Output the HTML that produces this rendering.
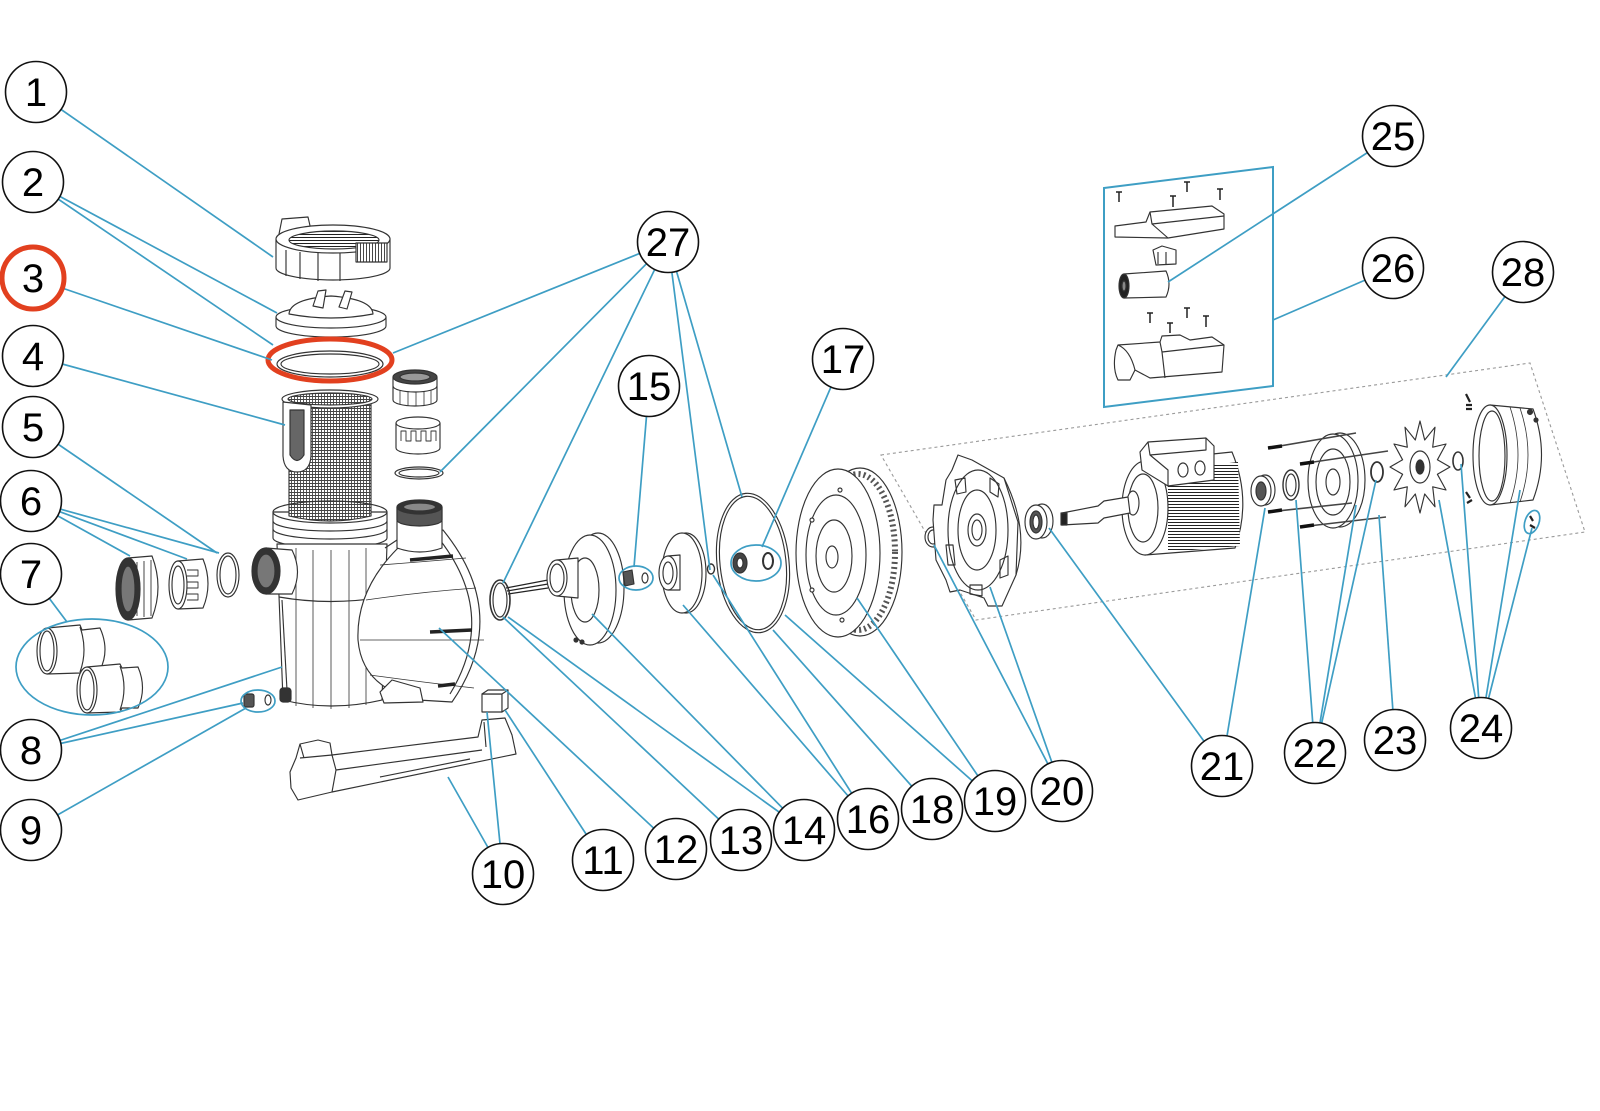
<!DOCTYPE html>
<html><head><meta charset="utf-8"><style>
html,body{margin:0;padding:0;background:#fff;}
svg{display:block;}
.lbl text{font-family:"Liberation Sans",Arial,sans-serif;font-size:40px;text-anchor:middle;fill:#000;}
</style></head><body>
<svg width="1600" height="1111" viewBox="0 0 1600 1111" xmlns="http://www.w3.org/2000/svg">
<defs>
<pattern id="mesh" width="3" height="3" patternUnits="userSpaceOnUse"><rect width="3" height="3" fill="#fff"/><path d="M0 0.5H3M0.5 0V3" stroke="#444" stroke-width="0.9"/></pattern>
<pattern id="hh" width="4" height="3" patternUnits="userSpaceOnUse"><rect width="4" height="3" fill="#fff"/><path d="M0 0.5H4" stroke="#222" stroke-width="1"/></pattern>
<pattern id="vv" width="3" height="4" patternUnits="userSpaceOnUse"><rect width="3" height="4" fill="#fff"/><path d="M0.5 0V4" stroke="#333" stroke-width="0.9"/></pattern>
</defs>
<rect width="1600" height="1111" fill="#fff"/>

<path d="M881 455 L1530 363 L1585 532 L976 620 Z" fill="none" stroke="#9a9a9a" stroke-width="1.1" stroke-dasharray="3 3"/>

<g fill="#fff" stroke="#333" stroke-width="1.15" stroke-linejoin="round">
<path d="M279 234 L282 219 L308 217 L311 230"/>
<path d="M276 239 V268 A57 12 0 0 0 390 268 V239 Z"/>
<ellipse cx="333" cy="239" rx="57" ry="14"/>
<ellipse cx="334" cy="240" rx="45" ry="9" fill="url(#hh)"/>
<path d="M286 250 V276 M300 252 V279 M318 253 V281 M340 253 V281" fill="none"/>
<rect x="356" y="243" width="31" height="19" fill="url(#vv)"/>
<path d="M276 317 V326 A55 11 0 0 0 386 326 V317 Z"/>
<ellipse cx="331" cy="317" rx="55" ry="11"/>
<path d="M289 314 Q290 299 331 296 Q372 299 373 314 Q331 322 289 314 Z"/>
<path d="M313 306 L318 291 L326 290 L323 308 Z M339 307 L345 291 L352 292 L347 309 Z"/>
<ellipse cx="330" cy="364" rx="53" ry="13" fill="none"/>
<ellipse cx="330" cy="364" rx="49" ry="10" fill="none"/>
<path d="M273 512 V538 A57 10 0 0 0 387 538 V512 Z"/>
<path d="M273 521 A57 10 0 0 0 387 521 M273 529 A57 10 0 0 0 387 529" fill="none"/>
<path d="M289 400 V516 Q330 526 371 516 V400 Z" fill="url(#mesh)"/>
<ellipse cx="330" cy="399" rx="48" ry="9"/>
<ellipse cx="330" cy="399" rx="42" ry="6" fill="url(#mesh)"/>
<path d="M283 402 V456 Q284 472 297 472 Q310 472 311 456 V405 Z"/>
<path d="M290 410 V455 Q297 466 304 455 V410 Z" fill="#666"/>
<path d="M273 512 A57 11 0 0 0 387 512" fill="none"/>
<path d="M273 512 A57 11 0 0 1 387 512" fill="none"/>
<path d="M277 544 L283 700 Q330 712 382 700 L387 544 Z"/>
<path d="M279 597 Q330 606 385 597" fill="none"/>
<path d="M296 548 V706 M313 550 V708 M331 550 V709 M349 550 V708 M366 548 V705" fill="none" stroke-width="0.8"/>
<path d="M266 548 L292 550 Q303 572 292 594 L266 594 Z"/>
<ellipse cx="266" cy="571" rx="14" ry="23" fill="#333"/>
<ellipse cx="266" cy="571" rx="9" ry="17" fill="#777"/>
<path d="M282 600 L287 690" fill="none"/>
<rect x="280" y="688" width="11" height="14" rx="3" fill="#333"/>
<path d="M398 548 Q356 590 358 640 Q362 688 418 700 L452 702 Q512 615 443 530 Z"/>
<path d="M385 548 L400 538 L412 548" fill="none"/>
<path d="M380 565 Q420 562 466 558 M366 600 Q420 592 476 588 M360 640 Q420 640 484 640 M370 675 Q420 682 474 688" fill="none" stroke-width="0.8"/>
<path d="M440 540 Q498 615 450 694" fill="none"/>
<path d="M410 560 L453 556 M430 632 L472 630 M438 686 L455 684" stroke="#222" stroke-width="3.5"/>
<path d="M380 692 L392 680 L420 688 L423 702 L384 703 Z"/>
<path d="M397 507 V548 Q420 556 442 548 V507 Z"/>
<path d="M397 507 V520 A22.5 6 0 0 0 442 520 V507 Z" fill="#555"/>
<ellipse cx="419.5" cy="507" rx="22.5" ry="7" fill="#333"/>
<ellipse cx="419.5" cy="507" rx="16" ry="4" fill="#888"/>
<path d="M393 377 V400 A22 6 0 0 0 437 400 V377 Z"/>
<path d="M393 386 A22 6 0 0 0 437 386" fill="none"/>
<path d="M400 390 V404 M408 391 V406 M416 392 V406 M424 391 V406 M431 390 V404" fill="none" stroke-width="0.8"/>
<ellipse cx="415" cy="377" rx="22" ry="7" fill="#444"/>
<ellipse cx="415" cy="377" rx="15" ry="4" fill="#999"/>
<path d="M396 423 V448 A22 6 0 0 0 440 448 V423 Z"/>
<ellipse cx="418" cy="423" rx="22" ry="6"/>
<path d="M401 441 V431 H406 V441 H411 V431 H416 V441 H421 V431 H426 V441 H431 V431 H436 V441" fill="none" stroke-width="0.9"/>
<ellipse cx="419" cy="473" rx="24" ry="6" fill="none"/>
<ellipse cx="419" cy="473" rx="20" ry="4" fill="none"/>
<path d="M128 558 L152 556 Q164 587 152 618 L128 620 Z"/>
<path d="M137 562 V616 M144 561 V617 M151 560 V616" fill="none" stroke-width="0.9"/>
<ellipse cx="128" cy="589" rx="12" ry="31" fill="#333"/>
<ellipse cx="128" cy="589" rx="7" ry="23" fill="#777"/>
<path d="M178 561 L203 559 Q213 584 203 608 L178 609 Z"/>
<path d="M187 570 H198 V576 H187 M187 582 H198 V588 H187 M187 594 H198 V600 H187" fill="none" stroke-width="0.9"/>
<ellipse cx="178" cy="585" rx="9" ry="24"/>
<ellipse cx="178" cy="585" rx="6" ry="19" fill="none"/>
<ellipse cx="228" cy="575" rx="11" ry="22" fill="none"/>
<ellipse cx="228" cy="575" rx="8" ry="19" fill="none"/>
<path d="M47 628 L80 625 L82 630 L100 628 Q110 650 100 670 L82 670 L80 673 L47 674 Z"/>
<path d="M80 627 Q88 650 80 672" fill="none"/>
<ellipse cx="47" cy="651" rx="10" ry="23"/>
<ellipse cx="47" cy="651" rx="7" ry="20" fill="none"/>
<path d="M87 667 L120 664 L122 668 L138 667 Q147 688 138 708 L122 708 L120 712 L87 713 Z"/>
<path d="M120 666 Q128 688 120 710" fill="none"/>
<ellipse cx="87" cy="690" rx="10" ry="23"/>
<ellipse cx="87" cy="690" rx="7" ry="20" fill="none"/>
<rect x="244" y="694" width="10" height="13" rx="2" fill="#555"/>
<ellipse cx="268" cy="700" rx="3" ry="5" fill="none"/>
<path d="M290 772 L296 758 L300 744 L318 740 L330 743 L332 755 L478 737 L482 720 L505 718 L512 735 L516 754 L332 792 L298 800 L291 788 Z"/>
<path d="M332 755 L336 770 L482 750 M300 758 L332 755 M300 744 L304 758 M484 722 L486 747 M332 792 L336 770 M380 777 L470 759" fill="none"/>
<rect x="482" y="694" width="20" height="18"/>
<path d="M482 694 L488 690 L508 690 L502 694 Z M502 694 L508 690 L508 708 L502 712 Z"/>
<path d="M506 588 L548 580 M508 594 L548 588 M507 591 L548 584" stroke="#222" stroke-width="1.2" fill="none"/>
<ellipse cx="500" cy="600" rx="10" ry="20" fill="none" stroke-width="1.6"/>
<ellipse cx="500" cy="600" rx="7" ry="17" fill="none"/>
<ellipse cx="598" cy="588" rx="26" ry="55"/>
<ellipse cx="590" cy="590" rx="26" ry="55"/>
<ellipse cx="585" cy="590" rx="14" ry="32" fill="none"/>
<path d="M557 560 L578 558 L578 598 L557 596 Z"/>
<ellipse cx="557" cy="578" rx="10" ry="18"/>
<ellipse cx="557" cy="578" rx="7" ry="14" fill="none"/>
<circle cx="576" cy="640" r="2" fill="#333"/><circle cx="582" cy="642" r="2" fill="#333"/>
<path d="M623 572 L632 570 L634 584 L625 586 Z" fill="#555"/>
<ellipse cx="645" cy="578" rx="3" ry="5" fill="none"/>
<ellipse cx="686" cy="573" rx="20" ry="40"/>
<ellipse cx="682" cy="573" rx="20" ry="40"/>
<path d="M668 556 L680 555 L680 590 L668 590 Z"/>
<ellipse cx="668" cy="573" rx="9" ry="17"/>
<ellipse cx="668" cy="573" rx="5" ry="11" fill="none"/>
<ellipse cx="711" cy="569" rx="3.5" ry="5" fill="none" stroke-width="1.4"/>
<ellipse cx="753" cy="563" rx="36" ry="70" fill="none" transform="rotate(-6 753 563)"/>
<ellipse cx="753" cy="563" rx="33" ry="67" fill="none" transform="rotate(-6 753 563)"/>
<ellipse cx="740" cy="563" rx="7" ry="10" fill="#444"/>
<ellipse cx="740" cy="563" rx="3" ry="5"/>
<ellipse cx="768" cy="561" rx="5" ry="8" fill="none" stroke-width="2"/>
<ellipse cx="860" cy="552" rx="42" ry="84"/>
<ellipse cx="858" cy="552" rx="37" ry="78" fill="none" stroke="#555" stroke-width="6" stroke-dasharray="2 3"/>
<ellipse cx="838" cy="553" rx="42" ry="84"/>
<ellipse cx="836" cy="555" rx="30" ry="60" fill="none"/>
<ellipse cx="834" cy="556" rx="18" ry="36" fill="none"/>
<ellipse cx="832" cy="557" rx="6" ry="11"/>
<circle cx="812" cy="520" r="2"/><circle cx="812" cy="590" r="2"/><circle cx="840" cy="490" r="2"/><circle cx="842" cy="620" r="2"/>
<ellipse cx="933" cy="537" rx="8" ry="10"/>
<ellipse cx="933" cy="537" rx="5" ry="7" fill="none"/>
<path d="M958 455 L972 460 L1004 478 L1018 522 L1016 575 L1002 606 L988 606 L984 598 L960 590 L950 592 L946 580 L936 560 L933 520 L934 505 L942 505 L946 480 L952 470 Z"/>
<path d="M1004 478 Q1030 530 1016 575" fill="none"/>
<ellipse cx="978" cy="530" rx="30" ry="60" fill="none"/>
<ellipse cx="977" cy="530" rx="19" ry="40" fill="none"/>
<path d="M955 480 L965 478 L966 492 L957 494 Z M990 478 L999 484 L998 497 L990 492 Z M946 545 L953 545 L955 565 L948 565 Z M1000 560 L1008 556 L1008 575 L1000 578 Z M970 585 L982 585 L982 596 L970 594 Z" fill="none"/>
<ellipse cx="977" cy="530" rx="9" ry="16"/>
<ellipse cx="977" cy="530" rx="5" ry="10" fill="none"/>
<ellipse cx="1042" cy="521" rx="11" ry="17"/>
<ellipse cx="1036" cy="522" rx="11" ry="17"/>
<ellipse cx="1036" cy="522" rx="6" ry="11" fill="#555"/>
<ellipse cx="1036" cy="522" rx="3" ry="7"/>
<path d="M1145 461 L1232 452 Q1252 500 1235 548 L1145 555 Z"/>
<path d="M1168 470 L1238 462 L1240 546 L1168 552 Z" fill="url(#hh)" stroke="none"/>
<ellipse cx="1145" cy="508" rx="23" ry="47"/>
<ellipse cx="1143" cy="508" rx="15" ry="34" fill="none"/>
<path d="M1140 452 L1148 442 L1206 438 L1214 446 L1214 480 L1168 486 L1142 470 Z"/>
<path d="M1148 442 L1150 455 L1206 450 L1206 438 M1150 455 L1168 470 L1168 486" fill="none"/>
<ellipse cx="1183" cy="470" rx="5" ry="7"/>
<ellipse cx="1200" cy="468" rx="5" ry="7"/>
<ellipse cx="1133" cy="503" rx="6" ry="12"/>
<path d="M1062 513 L1098 506 L1104 501 L1128 497 L1130 513 L1104 518 L1098 523 L1062 525 Z"/>
<rect x="1061" y="513" width="6" height="12" fill="#222"/>
<ellipse cx="1265" cy="490" rx="10" ry="15"/>
<ellipse cx="1261" cy="491" rx="10" ry="15"/>
<ellipse cx="1261" cy="491" rx="5" ry="9" fill="#555"/>
<ellipse cx="1291" cy="485" rx="8" ry="15" fill="none" stroke-width="1.4"/>
<ellipse cx="1291" cy="485" rx="5" ry="11" fill="none"/>
<ellipse cx="1340" cy="480" rx="25" ry="47"/>
<ellipse cx="1333" cy="481" rx="25" ry="47"/>
<ellipse cx="1333" cy="482" rx="17" ry="33" fill="none"/>
<ellipse cx="1333" cy="482" rx="7" ry="13" fill="none"/>
<path d="M1268 448 L1356 433 M1300 464 L1388 451 M1268 512 L1352 503 M1300 527 L1386 517" stroke="#444" stroke-width="1.6" fill="none"/>
<path d="M1268 448 L1282 446 M1300 464 L1314 462 M1268 512 L1282 510 M1300 527 L1314 525" stroke="#111" stroke-width="3.5" fill="none"/>
<ellipse cx="1377" cy="472" rx="6" ry="10" fill="none" stroke-width="1.8"/>
<polygon points="1450,467 1437.4,474.3 1446,490 1432.7,486.8 1435,506.8 1424.7,494 1420,513 1415.3,494 1405,506.8 1407.3,486.8 1394,490 1402.6,474.3 1390,467 1402.6,459.8 1394,444 1407.3,447.2 1405,427.2 1415.3,440 1420,421 1424.7,440 1435,427.2 1432.7,447.2 1446,444 1437.4,459.8"/>
<ellipse cx="1420" cy="467" rx="10" ry="16" fill="none"/>
<ellipse cx="1420" cy="467" rx="4" ry="7" fill="#333"/>
<ellipse cx="1458" cy="461" rx="5" ry="9" fill="none" stroke-width="1.6"/>
<path d="M1490 405 L1533 409 Q1550 455 1533 500 L1490 505 Z"/>
<path d="M1510 407 Q1526 455 1510 503 M1520 408 Q1536 455 1520 502" fill="none" stroke-width="0.8"/>
<ellipse cx="1490" cy="455" rx="17" ry="50"/>
<ellipse cx="1492" cy="456" rx="13" ry="45" fill="none"/>
<circle cx="1530" cy="412" r="2.5" fill="#333"/><circle cx="1536" cy="420" r="2" fill="#333"/>
<path d="M1466 394 L1470 402 M1466 405 H1472 M1466 409 H1472 M1466 492 L1470 498 M1467 503 L1472 500" stroke="#222" stroke-width="2.2" fill="none"/>
<path d="M1530 516 L1533 521 M1530 525 L1535 528" stroke="#222" stroke-width="2.2" fill="none"/>
<path d="M1116 192 H1122 M1119 192 V202 M1184 182 H1190 M1187 182 V192 M1170 196 H1176 M1173 196 V207 M1217 189 H1223 M1220 189 V200 M1147 313 H1153 M1150 313 V323 M1167 323 H1173 M1170 323 V333 M1184 308 H1190 M1187 308 V318 M1203 316 H1209 M1206 316 V327" stroke="#222" stroke-width="1.5" fill="none"/>
<path d="M1115 226 L1146 222 L1150 212 L1212 206 L1224 214 L1224 229 L1168 238 L1115 237 Z"/>
<path d="M1150 212 L1152 224 L1224 216 M1152 224 L1168 238" fill="none"/>
<path d="M1153 250 L1162 246 L1176 250 L1176 264 L1156 265 Z"/>
<path d="M1158 252 V264 M1166 252 V264" fill="none"/>
<path d="M1124 274 L1166 271 Q1172 284 1166 297 L1124 298 Z"/>
<ellipse cx="1124" cy="286" rx="5" ry="12" fill="#222"/>
<ellipse cx="1124" cy="286" rx="2" ry="5" fill="#888"/>
<path d="M1116 350 Q1112 368 1118 380 L1130 380 L1135 370 L1150 378 L1222 372 L1224 345 L1212 337 L1190 340 L1180 335 L1162 336 L1160 342 L1118 345 Z"/>
<path d="M1118 345 Q1130 350 1135 370 M1160 342 L1162 352 L1224 345 M1162 352 L1165 378" fill="none"/>
</g>

<ellipse cx="330" cy="360" rx="62" ry="21" fill="none" stroke="#e2401f" stroke-width="5"/>

<path d="M1104 188 L1273 167 L1273 386 L1104 407 Z" fill="none" stroke="#3e9ec4" stroke-width="2"/>

<g stroke="#3e9ec4" stroke-width="1.7" fill="none">
<path d="M36 92 L273 257"/>
<path d="M33 182 L277 313 M33 182 L273 345"/>
<path d="M33 278 L272 360"/>
<path d="M33 356 L285 425"/>
<path d="M33 427 L217 553"/>
<path d="M31 501 L130 556 M31 501 L187 559 M31 501 L219 553"/>
<path d="M31 574 L67 622"/>
<path d="M31 750 L282 667 M31 750 L243 703"/>
<path d="M31 830 L246 708"/>
<path d="M503 874 L487 712 M503 874 L448 777"/>
<path d="M603 860 L505 710"/>
<path d="M676 849 L439 628"/>
<path d="M741 840 L503 617"/>
<path d="M804 830 L508 617 M804 830 L592 614"/>
<path d="M868 819 L683 605 M868 819 L713 575"/>
<path d="M932 809 L773 630"/>
<path d="M995 801 L785 615 M995 801 L857 598"/>
<path d="M1062 791 L934 545 M1062 791 L990 587"/>
<path d="M1222 766 L1049 528 M1222 766 L1265 508"/>
<path d="M1315 753 L1296 500 M1315 753 L1356 505 M1315 753 L1376 480"/>
<path d="M1395 740 L1379 515"/>
<path d="M1481 728 L1439 500 M1481 728 L1461 464 M1481 728 L1520 490 M1481 728 L1532 528"/>
<path d="M1393 136 L1168 282"/>
<path d="M1393 268 L1273 320"/>
<path d="M668 242 L393 353 M668 242 L440 472 M668 242 L503 583 M668 242 L710 570 M668 242 L742 497"/>
<path d="M1523 272 L1446 377"/>
<path d="M649 386 L634 567"/>
<path d="M843 359 L762 547"/>
<ellipse cx="92" cy="667" rx="76" ry="48"/>
<ellipse cx="258" cy="701" rx="17" ry="11"/>
<ellipse cx="636" cy="578" rx="17" ry="12"/>
<ellipse cx="756" cy="563" rx="25" ry="18"/>
<ellipse cx="1532" cy="522" rx="7" ry="12" transform="rotate(20 1532 522)"/>
</g>

<g class="lbl" fill="#fff" stroke="#111" stroke-width="1.6">
<circle cx="36" cy="92" r="30.5"/>
<circle cx="33" cy="182" r="30.5"/>
<circle cx="33" cy="356" r="30.5"/>
<circle cx="33" cy="427" r="30.5"/>
<circle cx="31" cy="501" r="30.5"/>
<circle cx="31" cy="574" r="30.5"/>
<circle cx="31" cy="750" r="30.5"/>
<circle cx="31" cy="830" r="30.5"/>
<circle cx="503" cy="874" r="30.5"/>
<circle cx="603" cy="860" r="30.5"/>
<circle cx="676" cy="849" r="30.5"/>
<circle cx="741" cy="840" r="30.5"/>
<circle cx="804" cy="830" r="30.5"/>
<circle cx="868" cy="819" r="30.5"/>
<circle cx="932" cy="809" r="30.5"/>
<circle cx="995" cy="801" r="30.5"/>
<circle cx="1062" cy="791" r="30.5"/>
<circle cx="1222" cy="766" r="30.5"/>
<circle cx="1315" cy="753" r="30.5"/>
<circle cx="1395" cy="740" r="30.5"/>
<circle cx="1481" cy="728" r="30.5"/>
<circle cx="1393" cy="136" r="30.5"/>
<circle cx="1393" cy="268" r="30.5"/>
<circle cx="668" cy="242" r="30.5"/>
<circle cx="1523" cy="272" r="30.5"/>
<circle cx="649" cy="386" r="30.5"/>
<circle cx="843" cy="359" r="30.5"/>
<circle cx="33" cy="278" r="31" stroke="#e2401f" stroke-width="5"/>
</g>
<g class="lbl">
<text x="36" y="106">1</text>
<text x="33" y="196">2</text>
<text x="33" y="292">3</text>
<text x="33" y="370">4</text>
<text x="33" y="441">5</text>
<text x="31" y="515">6</text>
<text x="31" y="588">7</text>
<text x="31" y="764">8</text>
<text x="31" y="844">9</text>
<text x="503" y="888">10</text>
<text x="603" y="874">11</text>
<text x="676" y="863">12</text>
<text x="741" y="854">13</text>
<text x="804" y="844">14</text>
<text x="868" y="833">16</text>
<text x="932" y="823">18</text>
<text x="995" y="815">19</text>
<text x="1062" y="805">20</text>
<text x="1222" y="780">21</text>
<text x="1315" y="767">22</text>
<text x="1395" y="754">23</text>
<text x="1481" y="742">24</text>
<text x="1393" y="150">25</text>
<text x="1393" y="282">26</text>
<text x="668" y="256">27</text>
<text x="1523" y="286">28</text>
<text x="649" y="400">15</text>
<text x="843" y="373">17</text>
</g>
</svg>
</body></html>
